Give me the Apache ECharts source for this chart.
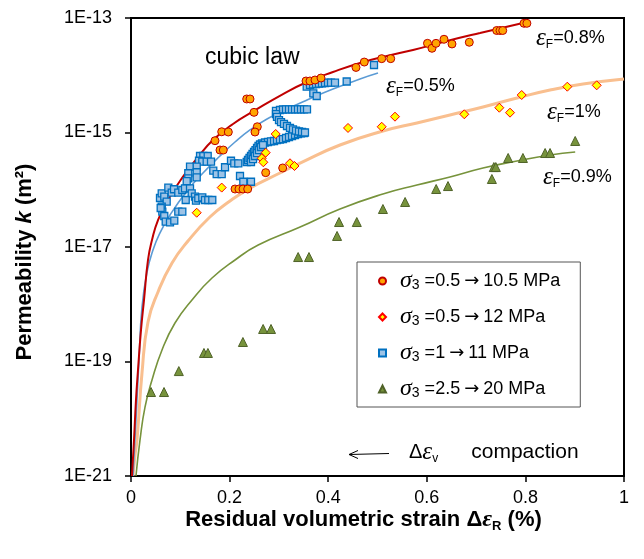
<!DOCTYPE html>
<html><head><meta charset="utf-8">
<script src="https://cdn.jsdelivr.net/npm/echarts@6.0.0/dist/echarts.min.js"></script>
<style>html,body{margin:0;padding:0;background:#fff}#c{width:644px;height:559px}</style>
</head><body><div id="c"></div>
<script>
// ---------- data (x = residual volumetric strain %, y = permeability m^2) ----------
const seriesNames = ['σ3 =0.5→10.5 MPa', 'σ3 =0.5→12 MPa', 'σ3 =1→11 MPa', 'σ3 =2.5→20 MPa'];
const xTicks = [0, 0.2, 0.4, 0.6, 0.8, 1];
const yTicks = [1e-21, 1e-19, 1e-17, 1e-15, 1e-13];

const circlePts = [
  [0.2347,3.85e-15],[0.2414,3.85e-15],[0.2495,2.25e-15],[0.2562,1.26e-15],[0.2515,1.02e-15],
  [0.184,1.03e-15],[0.1974,1.02e-15],[0.1704,7.19e-16],[0.1805,4.94e-16],[0.1872,4.94e-16],
  [0.2732,1.99e-16],[0.3077,2.4e-16],[0.211,1.03e-16],[0.219,1.03e-16],[0.2272,1.03e-16],[0.2367,1.03e-16],
  [0.355,7.94e-15],[0.363,7.94e-15],[0.3732,8.26e-15],[0.3854,8.95e-15],[0.4564,1.37e-14],[0.4732,1.7e-14],
  [0.5085,1.95e-14],[0.5268,1.95e-14],[0.6014,3.61e-14],[0.6105,2.96e-14],[0.6187,3.61e-14],[0.6349,4.25e-14],
  [0.6511,3.52e-14],[0.6862,3.77e-14],[0.7418,6.05e-14],[0.7485,6.05e-14],[0.754,6.05e-14],[0.7972,8.08e-14],[0.803,8.08e-14]
];
const diamondPts = [
  [0.1333,3.97e-17],[0.184,1.09e-16],[0.2651,3.54e-16],[0.2684,3.02e-16],[0.2732,4.44e-16],[0.2935,9.42e-16],
  [0.3225,2.9e-16],[0.3316,2.6e-16],[0.4402,1.2e-15],[0.5085,1.26e-15],[0.5355,1.89e-15],[0.6761,2.08e-15],
  [0.7471,2.71e-15],[0.7688,2.22e-15],[0.7925,4.52e-15],[0.885,6.31e-15],[0.9446,6.67e-15]
];
const squaresLow = [
  [0.0588,7.18e-17],[0.0623,8.67e-17],[0.0675,7.57e-17],[0.0724,6.18e-17],[0.0757,1.09e-16],[0.0826,8.89e-17],
  [0.0872,1.02e-16],[0.0959,8.89e-17],[0.1041,9.9e-17],[0.1095,1.06e-16],[0.1197,1.06e-16],[0.1231,8.67e-17],
  [0.1298,7.57e-17],[0.1318,6.44e-17],[0.1365,7.1e-17],[0.1446,7.38e-17],[0.1501,6.62e-17],[0.1568,6.62e-17],
  [0.1649,6.62e-17],[0.111,6.62e-17],[0.0623,5.06e-17],[0.0635,4.14e-17],[0.0675,3.48e-17],[0.0704,2.77e-17],
  [0.0791,2.7e-17],[0.0878,2.88e-17],[0.0959,4.14e-17],[0.1041,4.14e-17],[0.0602,4.8e-17]
];
const squaresMid = [
  [0.14,3.89e-16],[0.1467,3.89e-16],[0.1556,3.89e-16],[0.1379,3.21e-16],[0.1446,3.09e-16],[0.1535,3.09e-16],
  [0.1623,3.09e-16],[0.1197,2.53e-16],[0.1333,2.53e-16],[0.1162,1.94e-16],[0.1333,2.02e-16],[0.1162,1.58e-16],
  [0.1333,1.65e-16],[0.113,1.42e-16],[0.1669,2.15e-16],[0.1738,1.88e-16],[0.184,1.88e-16],[0.1907,2.47e-16],
  [0.2028,3.21e-16],[0.2095,2.9e-16],[0.2176,2.9e-16],[0.2211,1.74e-16],[0.2278,1.38e-16],[0.2434,1.38e-16]
];
const squaresSnake = [
  [0.2347,3.05e-16],[0.2373,3.31e-16],[0.2404,3.59e-16],[0.2434,3.89e-16],[0.2465,4.21e-16],[0.2495,4.56e-16],
  [0.2525,4.94e-16],[0.2556,5.36e-16],[0.2586,5.81e-16],[0.2617,6.17e-16],[0.2657,6.43e-16],[0.2718,6.69e-16],
  [0.2779,6.83e-16],[0.284,6.97e-16],[0.2901,7.11e-16],[0.2961,7.4e-16],[0.3022,7.55e-16],[0.3083,7.69e-16],
  [0.3144,8.02e-16],[0.3205,8.34e-16],[0.3266,8.69e-16],[0.3327,9.04e-16],[0.3387,9.42e-16],[0.3448,9.62e-16],
  [0.3509,9.8e-16],[0.2434,3.05e-16],[0.2475,3.44e-16],[0.2515,3.89e-16],[0.2556,4.38e-16],[0.2596,4.94e-16],
  [0.2637,5.58e-16],[0.2677,6.05e-16],
  [0.2941,2.38e-15],[0.3022,2.47e-15],[0.3083,2.52e-15],[0.3144,2.54e-15],[0.3205,2.54e-15],[0.3266,2.54e-15],
  [0.3327,2.54e-15],[0.3387,2.54e-15],[0.3448,2.54e-15],[0.3509,2.54e-15],[0.357,2.54e-15],
  [0.2941,2.1e-15],[0.2961,1.87e-15],[0.3002,1.65e-15],[0.3043,1.52e-15],[0.3103,1.41e-15],[0.3164,1.3e-15],
  [0.3225,1.2e-15],[0.3286,1.13e-15],[0.3347,1.08e-15],[0.3408,1.04e-15],[0.3469,1.02e-15],[0.3529,1.0e-15]
];
const squaresHigh = [
  [0.3564,6.31e-15],[0.3631,6.76e-15],[0.3692,6.95e-15],[0.3753,7.03e-15],[0.3813,7.12e-15],[0.3874,7.23e-15],
  [0.3935,7.32e-15],[0.3996,7.41e-15],[0.4057,7.41e-15],[0.4138,7.41e-15],[0.3698,4.84e-15],[0.3767,4.34e-15],
  [0.4375,7.78e-15],[0.4929,1.51e-14]
];
const trianglePts = [
  [0.0406,2.93e-20],[0.067,2.93e-20],[0.097,6.8e-20],[0.148,1.41e-19],[0.156,1.41e-19],[0.227,2.19e-19],
  [0.268,3.7e-19],[0.284,3.7e-19],[0.339,6.68e-18],[0.361,6.68e-18],[0.418,1.56e-17],[0.422,2.73e-17],
  [0.458,2.73e-17],[0.511,4.61e-17],[0.556,6.11e-17],[0.619,1.03e-16],[0.643,1.16e-16],[0.732,1.54e-16],
  [0.736,2.49e-16],[0.74,2.49e-16],[0.765,3.59e-16],[0.795,3.59e-16],[0.84,4.38e-16],[0.85,4.38e-16],[0.901,7.11e-16]
];
// fitted curves
const curveF08 = [
  [0.002,1e-21],[0.0061,4.26e-21],[0.0101,2.13e-20],[0.0142,7.1e-20],[0.0203,3.55e-19],[0.0264,1.19e-18],
  [0.0345,5.93e-18],[0.0426,1.32e-17],[0.0548,2.96e-17],[0.075,6.62e-17],[0.1034,1.6e-16],[0.1359,3.73e-16],
  [0.1663,7.4e-16],[0.2069,1.41e-15],[0.2495,2.38e-15],[0.3083,4.7e-15],[0.357,7.62e-15],[0.4097,1.14e-14],
  [0.4645,1.64e-14],[0.519,2.17e-14],[0.572,2.76e-14],[0.641,3.96e-14],[0.708,5.47e-14],[0.795,8.18e-14]
];
const curveF05 = [
  [0.0041,1e-21],[0.0101,9.5e-21],[0.0162,1.06e-19],[0.0223,8.95e-19],[0.0325,3.66e-18],[0.0446,8.87e-18],
  [0.0588,1.76e-17],[0.0791,3.62e-17],[0.1136,9.51e-17],[0.146,1.96e-16],[0.1805,3.89e-16],[0.211,6.83e-16],
  [0.2414,1.11e-15],[0.2759,1.72e-15],[0.3164,2.57e-15],[0.357,3.7e-15],[0.4097,5.75e-15],[0.4645,8.59e-15],[0.501,1.09e-14]
];
const curveF10 = [
  [0.0041,1e-21],[0.0081,2.33e-21],[0.0122,4.26e-21],[0.0223,6.3e-20],[0.0345,4.9e-19],[0.0548,1.64e-18],
  [0.0832,5.26e-18],[0.1156,1.27e-17],[0.16,3.34e-17],[0.2008,6.36e-17],[0.2414,1.07e-16],[0.302,1.96e-16],
  [0.343,2.93e-16],[0.424,6.05e-16],[0.511,1.06e-15],[0.58,1.47e-15],[0.647,2.02e-15],[0.714,2.79e-15],
  [0.783,4.01e-15],[0.85,5.52e-15],[0.917,7.03e-15],[1.0,8.6e-15]
];
const curveF09 = [
  [0.0101,1e-21],[0.0183,4.26e-21],[0.0284,1.6e-20],[0.0426,4.75e-20],[0.0629,1.59e-19],[0.0892,4.7e-19],
  [0.1237,1.19e-18],[0.1643,2.87e-18],[0.211,5.93e-18],[0.258,1.08e-17],[0.343,2.23e-17],[0.424,4.61e-17],
  [0.511,8.43e-17],[0.58,1.21e-16],[0.647,1.67e-16],[0.714,2.4e-16],[0.783,3.18e-16],[0.85,4.05e-16],[0.901,4.56e-16]
];

// ---------- chart ----------
const chart = echarts.init(document.getElementById('c'), null, {renderer: 'canvas'});
const AR = 'Arial, "Liberation Sans", sans-serif';
const SERIF = '"Liberation Serif", "Times New Roman", serif';
const ARROWF = '"DejaVu Sans", sans-serif';

function lineSeries(data, color, width) {
  return {type: 'line', data: data, smooth: true, showSymbol: false, symbol: 'none', silent: true,
    lineStyle: {color: color, width: width}, z: 2, clip: true};
}
const epsRich = {
  e: {fontFamily: SERIF, fontStyle: 'italic', fontSize: 25, lineHeight: 26, color: '#000'},
  f: {fontFamily: AR, fontSize: 12, lineHeight: 14, verticalAlign: 'bottom', color: '#000'},
  t: {fontFamily: AR, fontSize: 18, lineHeight: 26, color: '#000'}
};
function epsLabel(x, y, txt) {
  return {type: 'text', x: x, y: y, z: 20,
    style: {text: '{e|ε}{f|F}{t|' + txt + '}', rich: epsRich, align: 'left', verticalAlign: 'middle'}};
}
function legendText(name) {
  const rest = name.slice(2);            // ' =0.5→10.5 MPa'
  const parts = rest.split('→');
  return '{s|σ}{b|3}{t|' + parts[0] + '}{r|→}{t|' + parts[1] + '}';
}

const option = {
  animation: false,
  backgroundColor: '#fff',
  grid: {left: 131, right: 20, top: 18, bottom: 83, containLabel: false, outerBoundsMode: 'none',
    show: true, borderColor: '#000', borderWidth: 2, backgroundColor: 'transparent'},
  xAxis: {
    type: 'value', min: xTicks[0], max: xTicks[xTicks.length - 1], interval: 0.2,
    name: '{a|Residual volumetric strain Δ}{e|ε}{r|R}{a| (%)}',
    nameLocation: 'middle', nameGap: 31, nameMoveOverlap: false,
    nameTextStyle: {padding: [0, 28, 0, 0], rich: {
      a: {fontFamily: AR, fontWeight: 'bold', fontSize: 22, color: '#000', lineHeight: 26},
      e: {fontFamily: SERIF, fontWeight: 'bold', fontStyle: 'italic', fontSize: 24, color: '#000', lineHeight: 26},
      r: {fontFamily: AR, fontWeight: 'bold', fontSize: 13, color: '#000', lineHeight: 14, verticalAlign: 'bottom'}
    }},
    axisLine: {show: true, onZero: false, lineStyle: {color: '#000', width: 2}},
    axisTick: {show: true, inside: false, length: 6, lineStyle: {color: '#000', width: 1.5}},
    axisLabel: {fontFamily: AR, fontSize: 18, color: '#000', margin: 13, showMinLabel: true, showMaxLabel: true,
      hideOverlap: false, formatter: v => String(+v.toFixed(1))},
    splitLine: {show: false}
  },
  yAxis: {
    type: 'log', logBase: 10, min: yTicks[0], max: yTicks[yTicks.length - 1],
    name: '{a|Permeability }{k|k}{a| (m²)}',
    nameLocation: 'middle', nameRotate: 90, nameGap: 93, nameMoveOverlap: false,
    nameTextStyle: {padding: [0, 30, 0, 0], rich: {
      a: {fontFamily: AR, fontWeight: 'bold', fontSize: 22, color: '#000', lineHeight: 26},
      k: {fontFamily: AR, fontWeight: 'bold', fontStyle: 'italic', fontSize: 22, color: '#000', lineHeight: 26}
    }},
    axisLine: {show: true, onZero: false, lineStyle: {color: '#000', width: 2}},
    axisTick: {show: true, inside: false, length: 6, customValues: yTicks, lineStyle: {color: '#000', width: 1.5}},
    axisLabel: {fontFamily: AR, fontSize: 18, color: '#000', margin: 19, customValues: yTicks,
      showMinLabel: true, showMaxLabel: true, hideOverlap: false,
      formatter: v => '1E' + Math.round(Math.log10(v))},
    minorTick: {show: false},
    splitLine: {show: false}
  },
  legend: {
    orient: 'vertical', left: 357, top: 262,
    padding: [7, 20, 6, 21], itemGap: 12, itemWidth: 7, itemHeight: 7,
    borderColor: '#555', borderWidth: 1, backgroundColor: '#fff',
    data: seriesNames,
    formatter: legendText,
    textStyle: {rich: {
      s: {fontFamily: SERIF, fontStyle: 'italic', fontSize: 24, lineHeight: 22, color: '#000', padding: [0, 0, 0, 9]},
      b: {fontFamily: AR, fontSize: 14, lineHeight: 14, verticalAlign: 'bottom', color: '#000'},
      t: {fontFamily: AR, fontSize: 18, lineHeight: 22, color: '#000'},
      r: {fontFamily: ARROWF, fontSize: 18, lineHeight: 22, color: '#000', padding: [0, 4, 0, 4]}
    }}
  },
  series: [
    lineSeries(curveF10, '#F9BF8F', 3),
    lineSeries(curveF09, '#77933C', 1.6),
    lineSeries(curveF05, '#5B9BD5', 1.6),
    lineSeries(curveF08, '#C00000', 2),
    {name: seriesNames[2], type: 'scatter', data: squaresLow.concat(squaresMid, squaresSnake, squaresHigh),
      symbol: 'rect', symbolSize: 7, z: 5,
      itemStyle: {color: '#9DC3E6', borderColor: '#0070C0', borderWidth: 1.3, opacity: 1}},
    {name: seriesNames[3], type: 'scatter', data: trianglePts, symbol: 'triangle', symbolSize: 9, z: 5,
      itemStyle: {color: '#77933C', borderColor: '#4F6228', borderWidth: 1, opacity: 1}},
    {name: seriesNames[1], type: 'scatter', data: diamondPts, symbol: 'diamond', symbolSize: 9, z: 6,
      itemStyle: {color: '#FFFF00', borderColor: '#FF0000', borderWidth: 1, opacity: 1}},
    {name: seriesNames[0], type: 'scatter', data: circlePts, symbol: 'circle', symbolSize: 8, z: 7,
      itemStyle: {color: '#FFA500', borderColor: '#C00000', borderWidth: 1, opacity: 1}}
  ],
  graphic: [
    {type: 'text', x: 205, y: 58, z: 20,
      style: {text: 'cubic law', font: '23px ' + AR, fill: '#000', align: 'left', verticalAlign: 'middle'}},
    epsLabel(536, 38, '=0.8%'),
    epsLabel(386, 86, '=0.5%'),
    epsLabel(547, 112, '=1%'),
    epsLabel(543, 177, '=0.9%'),
    {type: 'line', z: 20, shape: {x1: 349, y1: 454.5, x2: 389, y2: 453.5}, style: {stroke: '#000', lineWidth: 1}},
    {type: 'polyline', z: 20, shape: {points: [[358, 450.5], [349, 454.5], [358, 458.5]]},
      style: {stroke: '#000', lineWidth: 1, fill: null}},
    {type: 'text', x: 409, y: 452, z: 20,
      style: {text: '{d|Δ}{e|ε}{v|v}{t|compaction}', align: 'left', verticalAlign: 'middle', rich: {
        d: {fontFamily: AR, fontSize: 20, lineHeight: 26, color: '#000'},
        e: {fontFamily: SERIF, fontStyle: 'italic', fontSize: 25, lineHeight: 26, color: '#000'},
        v: {fontFamily: AR, fontSize: 12, lineHeight: 14, verticalAlign: 'bottom', color: '#000'},
        t: {fontFamily: AR, fontSize: 21, lineHeight: 26, color: '#000', padding: [0, 0, 0, 33]}
      }}}
  ]
};
chart.setOption(option);
</script></body></html>
